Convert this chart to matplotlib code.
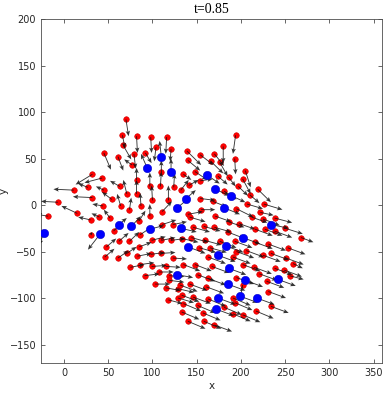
import numpy as np
import matplotlib
matplotlib.use("Agg")
import matplotlib.pyplot as plt

# red cells: position (x, y) and velocity (u, v)
red_x = [70, 66, 82, 98, 116, 67, 45, 61, 79, 92, 104, 121, 139, 154, 140, 170,
         180, 194, 193, 176, 166, 205, 202, 219, 186, 197, 174, 181, 168, 195,
         207, 226, 222, 238, 212, 198, 186, 171, 250, 154, 148, 135, 141, 154,
         132, 124, 109, 97, 82, 77, 110, 63, 71, 82, 100, 118, 64, 74, 87, 97,
         111, 140, 155, 32, 43, 11, 27, 45, 32, -7, 54, 44, 15, -18, 30, 40,
         52, 85, 30, 56, 62, 48, 74, 86, 111, 123, 99, 110, 121, 85, 71, 46,
         61, 83, 98, 110, 123, 75, 86, 99, 115, 91, 107, 119, 103, 119, 115,
         129, 118, 129, 142, 225, 146, 158, 170, 185, 216, 227, 238, 133, 144,
         159, 176, 193, 216, 231, 253, 153, 165, 195, 206, 225, 234, 251, 259,
         163, 191, 135, 148, 167, 202, 215, 238, 249, 151, 163, 195, 221, 229,
         255, 131, 142, 161, 202, 231, 133, 146, 163, 191, 234, 135, 151, 181,
         193, 217, 133, 157, 191, 202, 140, 158, 170, 268, 210]
red_y = [92, 75, 74, 73, 73, 64, 56, 52, 55, 56, 62, 60, 58, 54, 48, 55,
         63, 75, 50, 46, 47, 37, 28, 17, 30, 20, 31, 15, 4, -4,
         1, 1, -8, -14, -13, -20, -18, -12, -25, 7, 36, 33, 21, 26,
         16, 19, 20, 20, 27, 43, 35, 20, 12, 12, 5, 5, -1, -5, -1, -12,
         -7, -10, -5, 33, 29, 16, 19, 16, 8, 3, 6, -1, -9, -12, -16, -13,
         -14, -17, -32, -28, -39, -45, -39, -32, -21, -21, -38, -38, -38, -45, -52, -56,
         -57, -55, -53, -52, -57, -67, -64, -66, -66, -76, -72, -76, -85, -81, -89,
         -90, -102, -100, -13, -15, -24, -23, -24, -29, -26, -26, -28, -36, -35,
         -38, -39, -39, -40, -42, -46, -46, -46, -50, -49, -54, -52, -57, -63,
         -56, -56, -64, -64, -66, -64, -67, -68, -70, -75, -79, -78, -74, -82,
         -76, -86, -85, -88, -86, -93, -97, -99, -101, -100, -109, -106, -108, -110,
         -105, -114, -115, -116, -117, -118, -125, -125, -129, -35, 11]
red_u = [3, 3, 1, 1, -1, 9, 8, 6, 2, 7, -2, -1, 16, 15, 14, 11,
         0, -3, 1, 9, 14, 6, 9, 15, 8, 11, 11, 14, 16, 19,
         18, 21, 15, 20, 18, 18, 18, 18, 20, 17, 14, 9, 11, 14,
         9, 1, 1, 0, 0, -9, 0, -11, -4, 0, -1, 0, -4, 2, -1, 0,
         11, 17, 16, -19, -20, -23, -11, -9, -22, -19, -11, -12, -18, -13, -14, -9,
         -7, 7, 2, 9, 11, 11, 11, 14, 16, 16, 16, 16, 16, 14, 11, 11,
         12, 16, 16, 16, 16, 16, 16, 17, 17, 17, 17, 17, 17, 17, 17,
         18, 16, 18, 18, 19, 19, 19, 19, 19, 20, 20, 20, 19, 19,
         19, 19, 20, 20, 20, 20, 19, 19, 20, 20, 20, 20, 20, 11,
         20, 20, 19, 19, 20, 20, 20, 20, 20, 20, 20, 20, 20, 20,
         16, 20, 20, 20, -3, 20, 20, 20, 20, 20, 20, 20, 20, 20,
         20, 20, 20, 20, 20, 20, 20, 20, 20, 14, 11]
red_v = [-18, -14, -18, -17, -18, -15, -18, -15, -16, -11, -15, -13, -15, -11, -11, -13,
         -18, -20, -17, -15, -13, -18, -16, -14, -10, -10, -9, -9, -6, -9,
         -5, -6, -3, -5, -6, -6, -6, -6, -6, -2, -9, -6, 6, 2,
         11, 15, 16, 15, 13, 6, 13, 6, 15, 15, 16, 16, 13, 13, 14, 13,
         11, 3, 0, -11, -5, 1, 4, 4, 1, 1, 8, 2, 8, 2, 3, 4,
         9, 11, 3, 9, 9, 9, 10, 9, 5, 3, 4, 3, 2, 5, 7, 9,
         8, 3, 2, 1, -1, 3, 2, 1, -1, 2, 0, -1, 0, -2, -3,
         -4, -4, -5, -5, -7, -5, -5, -5, -7, -7, -7, -7, -4, -5,
         -5, -7, -7, -7, -7, -7, -5, -5, -7, -7, -7, -7, -7, -5,
         -7, -7, -7, -7, -7, -7, -7, -7, -7, -7, -7, -7, -7, -7,
         -4, -7, -7, -7, -15, -7, -7, -7, -8, -8, -7, -8, -8, -8,
         -8, -8, -8, -8, -8, -8, -8, -8, -7, -5, -9]

# blue cells
blue_x = [-23, 41, 62, 76, 97, 94, 110, 121, 162, 171, 138, 128, 189, 181, 234,
          132, 202, 140, 183, 174, 186, 128, 205, 242, 185, 199, 218, 174, 172]
blue_y = [-30, -31, -21, -23, -26, 40, 52, 35, 32, 17, 7, -3, 10, -3, -21,
          -25, -35, -45, -44, -54, -68, -75, -81, -80, -85, -98, -100, -100, -112]
blue_u = [-5, -14, 9, 11, 16, -7, -2, 0, 14, 16, 11, 14, 16, 18, 20,
          18, 20, 20, 20, 20, 20, 18, 20, 20, 20, 20, 20, 20, 20]
blue_v = [-13, -17, 7, 11, 4, 15, 17, 15, -9, -7, 9, 11, -7, -7, -4,
          -4, -7, -7, -7, -7, -7, -3, -7, -7, -7, -7, -7, -7, -7]

fig = plt.figure(figsize=(3.91, 3.96), dpi=100)
ax = fig.add_axes([0.105, 0.083, 0.873, 0.869])

ax.plot(red_x, red_y, 'o', color='#ff0000', mec='#d00000', mew=0.4, ms=4, zorder=2)
arrow_style = dict(angles='xy', scale_units='xy', scale=1, color='#111111',
                   alpha=0.85, width=0.0026, headwidth=5, headlength=6,
                   headaxislength=5, zorder=3)
ax.quiver(red_x, red_y, red_u, red_v, **arrow_style)
ax.quiver(blue_x, blue_y, blue_u, blue_v, **arrow_style)
ax.plot(blue_x, blue_y, 'o', color='#0000ff', mec='#0000cc', mew=0.4, ms=6, zorder=4)

ax.set_xlim(-26, 360)
ax.set_ylim(-170, 200)
ax.set_xticks(np.arange(0, 351, 50))
ax.set_yticks(np.arange(-150, 201, 50))
ax.tick_params(direction='in', top=True, right=True, labelsize=7,
               length=3, width=0.6, colors='#4d4d4d', labelcolor='#262626')
for s in ax.spines.values():
    s.set_color('#4d4d4d')
    s.set_linewidth(0.6)

ax.set_xlabel('x', fontsize=7.5, color='#262626', labelpad=2)
ax.set_ylabel('y', fontsize=7.5, color='#262626')
ax.yaxis.set_label_coords(-0.095, 0.5)
ax.set_title('t=0.85', fontsize=10, family='Liberation Serif', pad=4)

fig.savefig('out.png', dpi=100)
